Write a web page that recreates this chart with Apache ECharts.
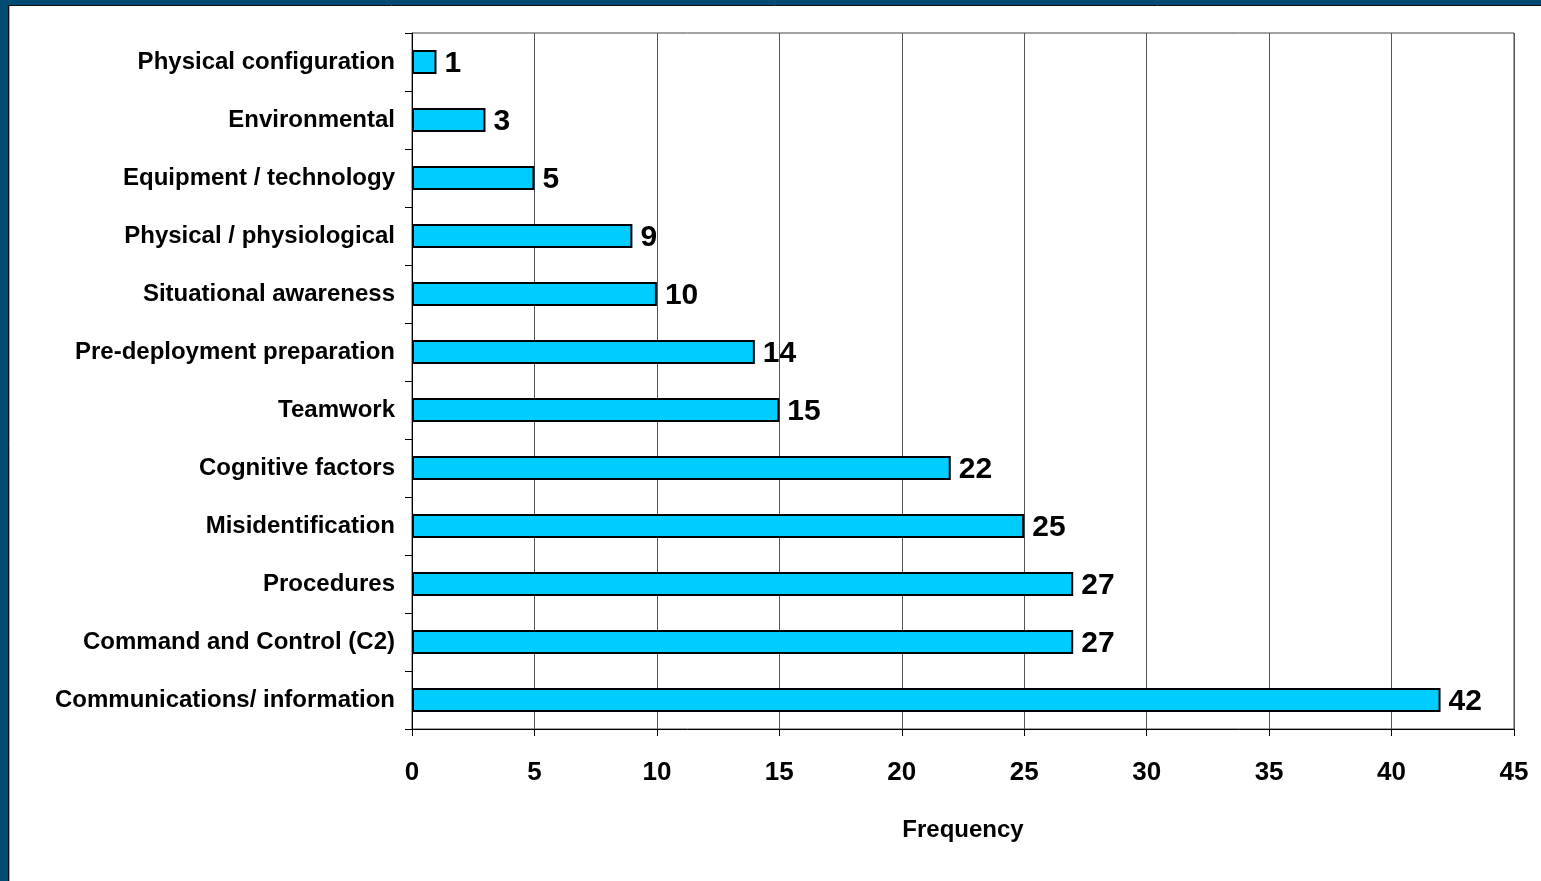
<!DOCTYPE html>
<html>
<head>
<meta charset="utf-8">
<script src="https://cdn.jsdelivr.net/npm/echarts@6/dist/echarts.min.js"></script>
<style>
html,body{margin:0;padding:0;background:#fff;}
#chart{width:1541px;height:881px;}
</style>
</head>
<body>
<div id="chart"></div>
<script>
const categories = ['Physical configuration','Environmental','Equipment / technology','Physical / physiological','Situational awareness','Pre-deployment preparation','Teamwork','Cognitive factors','Misidentification','Procedures','Command and Control (C2)','Communications/ information'];
const values = [1,3,5,9,10,14,15,22,25,27,27,42];
const xTicks = {min:0, max:45, interval:5};
const axisName = 'Frequency';

const FONT = '"Liberation Sans", Arial, sans-serif';
const chart = echarts.init(document.getElementById('chart'));
chart.setOption({
  backgroundColor:'#fff',
  animation:false,
  grid:{left:412, right:27, top:33, bottom:152, show:true, borderColor:'#444', borderWidth:1, containLabel:false, outerBoundsMode:'none'},
  xAxis:{
    type:'value', min:xTicks.min, max:xTicks.max, interval:xTicks.interval,
    name:axisName, nameLocation:'middle', nameGap:89,
    nameTextStyle:{fontFamily:FONT, fontWeight:'bold', fontSize:24, color:'#000'},
    axisLine:{show:true, lineStyle:{color:'#000', width:1}},
    axisTick:{show:true, length:7, lineStyle:{color:'#000'}},
    axisLabel:{fontFamily:FONT, fontWeight:'bold', fontSize:26, color:'#000', margin:31},
    splitLine:{show:true, lineStyle:{color:'#555', width:1}}
  },
  yAxis:{
    type:'category', inverse:true, data:categories,
    axisLine:{show:true, lineStyle:{color:'#000', width:1}},
    axisTick:{show:true, length:7, lineStyle:{color:'#000'}},
    axisLabel:{fontFamily:FONT, fontWeight:'bold', fontSize:24, color:'#000', margin:17, padding:[4,0,0,0]},
    splitLine:{show:false}
  },
  series:[{
    type:'bar', data:values, barWidth:24,
    itemStyle:{color:'#00CCFF', borderColor:'#000', borderWidth:2},
    label:{show:true, position:'right', distance:8, offset:[0,2], fontFamily:FONT, fontWeight:'bold', fontSize:30, color:'#000'}
  }],
  graphic:[
    {type:'rect', shape:{x:0,y:0,width:1541,height:5}, style:{fill:'#024B74'}, silent:true},
    {type:'rect', shape:{x:0,y:0,width:8,height:881}, style:{fill:'#024B74'}, silent:true},
    {type:'line', shape:{x1:8,y1:5.5,x2:1541,y2:5.5}, style:{stroke:'#111',lineWidth:1}, silent:true},
    {type:'line', shape:{x1:8.5,y1:5,x2:8.5,y2:881}, style:{stroke:'#111',lineWidth:1}, silent:true},
    {type:'line', shape:{x1:9.5,y1:6,x2:9.5,y2:881}, style:{stroke:'#aaa',lineWidth:1}, silent:true}
  ]
});
</script>
</body>
</html>
